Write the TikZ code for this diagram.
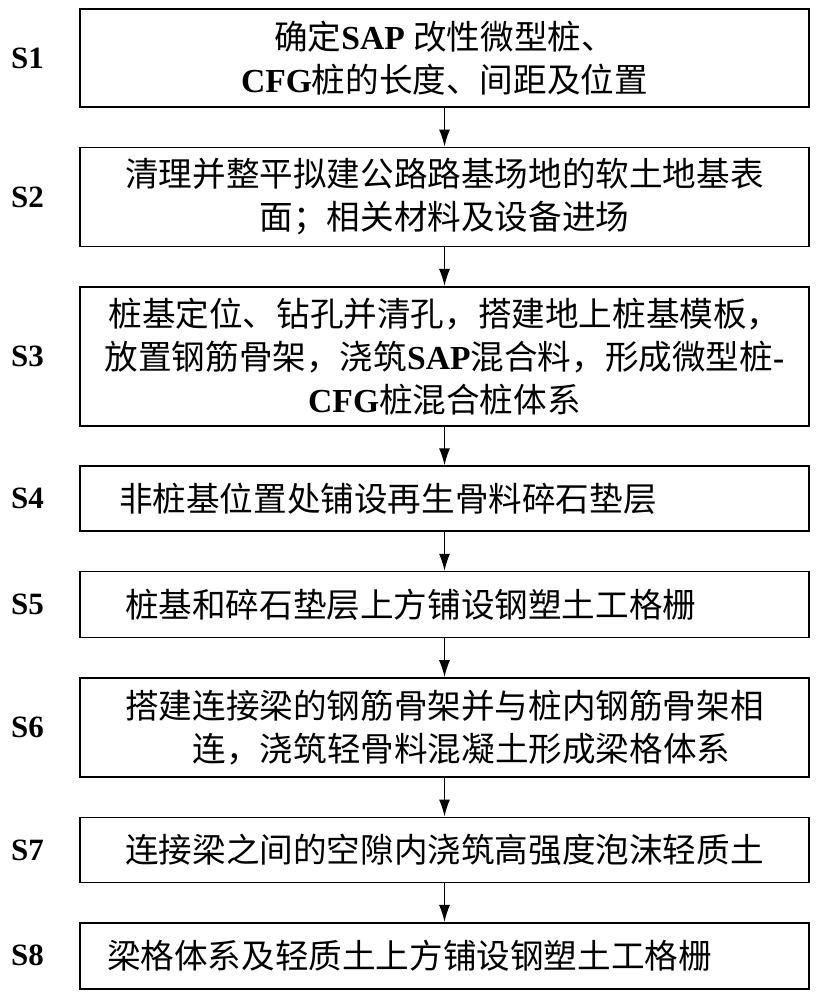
\documentclass[tikz,border=0pt]{standalone}
\usepackage{fontspec}
\setmainfont{Liberation Serif}
\newfontfamily\cjk{Noto Sans CJK SC}
\usetikzlibrary{arrows.meta,positioning}
\tikzset{every picture/.style={
  >={Latex[length=17pt,width=11pt]}   % Filled flow arrows.
  }
}
\newcommand{\zh}[1]{{\cjk #1}}
\newcommand{\en}[1]{\textbf{#1}}

\begin{document}
\begin{tikzpicture}[
    x=1pt,y=1pt,
    node distance=38.7pt,
    stepbox/.style={
      rectangle,
      draw,
      line width=1.7pt,
      minimum width=729pt,
      align=center,
      inner sep=0pt,
      font=\fontsize{33.6pt}{43pt}\selectfont
    },
    flushbox/.style={
      align=left,
      inner xsep=#1
    },
    steplabel/.style={
      inner sep=0pt,
      font=\fontsize{31pt}{31pt}\selectfont\bfseries
    },
    flow/.style={
      ->,
      line width=1.3pt
    }]

    \useasboundingbox (0,0) rectangle (817,-1000);

    % The eight construction steps.
    \node[stepbox,minimum height=98pt] (b1) at (444.5,-58)
      {\zh{确定}\en{SAP} \zh{改性微型桩、}\\\en{CFG}\zh{桩的长度、间距及位置}};
    \node[stepbox,minimum height=99pt,below=of b1] (b2)
      {\zh{清理并整平拟建公路路基场地的软土地基表}\\\zh{面；相关材料及设备进场}};
    \node[stepbox,minimum height=139pt,below=of b2] (b3)
      {\zh{桩基定位、钻孔并清孔，搭建地上桩基模板，}\\
       \zh{放置钢筋骨架，浇筑}\en{SAP}\zh{混合料，形成微型桩}\en{-}\\
       \en{CFG}\zh{桩混合桩体系}};
    \node[stepbox,minimum height=65pt,below=of b3,
          flushbox=39pt,text width=651pt] (b4)
      {\zh{非桩基位置处铺设再生骨料碎石垫层}};
    \node[stepbox,minimum height=66pt,below=of b4,
          flushbox=45pt,text width=639pt] (b5)
      {\zh{桩基和碎石垫层上方铺设钢塑土工格栅}};
    \node[stepbox,minimum height=99pt,below=of b5] (b6)
      {\zh{搭建连接梁的钢筋骨架并与桩内钢筋骨架相}\\\hspace*{34pt}\zh{连，浇筑轻骨料混凝土形成梁格体系}};
    \node[stepbox,minimum height=65pt,below=of b6] (b7)
      {\zh{连接梁之间的空隙内浇筑高强度泡沫轻质土}};
    \node[stepbox,minimum height=66pt,below=of b7,
          flushbox=27pt,text width=675pt] (b8)
      {\zh{梁格体系及轻质土上方铺设钢塑土工格栅}};

    % Step numbers on the left.
    \foreach \i in {1,...,8}
      \node[steplabel,left=35pt of b\i] (s\i) {S\i};

    % Arrows between the steps.
    \foreach \i [count=\j from 2] in {1,...,7}
      \draw[flow] (b\i) -- (b\j);
  \end{tikzpicture}
\end{document}
